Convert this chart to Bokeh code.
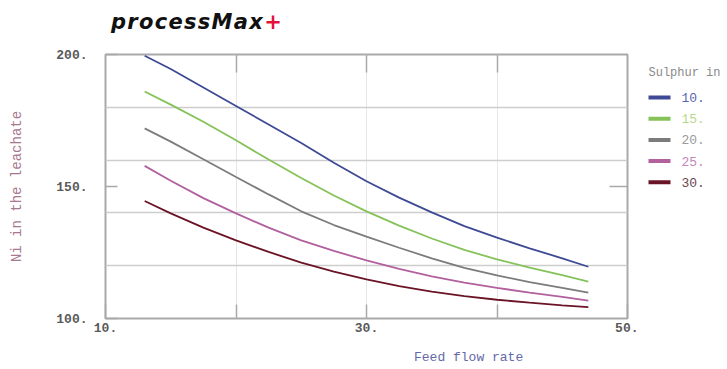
from bokeh.plotting import figure
from bokeh.models import Div, FixedTicker, LinearAxis, Range1d, ColumnDataSource
from bokeh.layouts import column, row
from bokeh.embed import file_html
from bokeh.resources import INLINE
from bokeh.core.properties import value

# ---- data ----
feed_flow = [13, 15, 17.5, 20, 22.5, 25, 27.5, 30, 32.5, 35, 37.5, 40, 42.5, 45, 47]
ni_s10 = [199.5, 194.5, 187.5, 180.5, 173.5, 166.5, 159.0, 152.0, 145.8, 140.2, 135.0, 130.6, 126.6, 122.8, 119.6]
ni_s15 = [186.0, 181.0, 174.5, 167.5, 160.2, 153.2, 146.6, 140.6, 135.2, 130.3, 126.0, 122.4, 119.3, 116.4, 114.0]
ni_s20 = [172.0, 167.0, 160.3, 153.6, 147.0, 140.6, 135.4, 131.0, 126.8, 122.8, 119.2, 116.3, 113.8, 111.6, 109.8]
ni_s25 = [157.8, 152.2, 145.6, 139.8, 134.4, 129.6, 125.6, 122.0, 118.8, 116.0, 113.6, 111.6, 109.8, 108.2, 106.8]
ni_s30 = [144.5, 139.8, 134.4, 129.6, 125.2, 121.2, 117.8, 114.8, 112.3, 110.2, 108.5, 107.1, 106.0, 105.0, 104.3]
sulphur_labels = ["10.", "15.", "20.", "25.", "30."]
series = [ni_s10, ni_s15, ni_s20, ni_s25, ni_s30]
line_colors = ["#3e4b94", "#86c25a", "#7c7c7c", "#b2609e", "#6a1426"]
label_colors = ["#5866b0", "#b9d98a", "#9a9a9a", "#c486b6", "#6b4450"]

x_ticks = [10, 20, 30, 40, 50]
x_tick_labels = {10: "10.", 20: "", 30: "30.", 40: "", 50: "50."}
y_ticks = [100, 150, 200]
y_tick_labels = {100: "100.", 150: "150.", 200: "200."}

MONO = "Liberation Mono"
FRAME = "#a9a9a9"

title = Div(
    text='<div style="padding-left:111px;padding-top:2px;font-family:\'DejaVu Sans\';font-weight:bold;'
         'font-style:italic;font-size:21px;letter-spacing:1.3px;line-height:40px;color:#111;'
         'white-space:nowrap;">processMax<span style="color:#e3123c">+</span></div>',
    width=725, height=42, margin=0,
)

p = figure(width=638, height=300, x_range=Range1d(10, 50), y_range=Range1d(100, 200),
           output_backend="svg", toolbar_location=None, title=None,
           min_border_left=105, min_border_right=11, min_border_top=12, min_border_bottom=24)
p.background_fill_color = "white"
p.border_fill_color = "white"
p.outline_line_color = FRAME
p.outline_line_width = 2

for ys, c in zip(series, line_colors):
    p.line(feed_flow, ys, line_color=c, line_width=1.8)

# grid
p.xgrid.ticker = FixedTicker(ticks=[20, 30, 40])
p.xgrid.grid_line_color = "#e6e6e6"
p.xgrid.grid_line_width = 1
p.ygrid.ticker = FixedTicker(ticks=[120, 140, 160, 180])
p.ygrid.grid_line_color = "#cdcdcd"
p.ygrid.grid_line_width = 1.5

# bottom axis
xa = p.xaxis[0]
xa.ticker = FixedTicker(ticks=x_ticks)
xa.major_label_overrides = x_tick_labels
xa.axis_line_color = None
xa.major_tick_line_color = FRAME
xa.major_tick_line_width = 1.5
xa.major_tick_in = 14
xa.major_tick_out = 0
xa.minor_tick_line_color = None
xa.major_label_standoff = 4
xa.major_label_text_font = MONO
xa.major_label_text_font_style = "bold"
xa.major_label_text_font_size = "13px"
xa.major_label_text_color = "#5a5a5a"

# left axis
ya = p.yaxis[0]
ya.ticker = FixedTicker(ticks=y_ticks)
ya.major_label_overrides = y_tick_labels
ya.axis_line_color = None
ya.major_tick_line_color = FRAME
ya.major_tick_line_width = 1.5
ya.major_tick_in = 12
ya.major_tick_out = 0
ya.minor_tick_line_color = None
ya.major_label_standoff = 18
ya.major_label_text_font = MONO
ya.major_label_text_font_style = "bold"
ya.major_label_text_font_size = "13px"
ya.major_label_text_color = "#5a5a5a"
ya.axis_label = "Ni in the leachate"
ya.axis_label_text_font = MONO
ya.axis_label_text_font_style = "normal"
ya.axis_label_text_font_size = "14px"
ya.axis_label_text_color = "#a87890"
ya.axis_label_standoff = 28

# top and right frame ticks
ta = LinearAxis(ticker=FixedTicker(ticks=[20, 30, 40]), axis_line_color=None,
                major_tick_line_color=FRAME, major_tick_line_width=1.5,
                major_tick_in=18, major_tick_out=0, minor_tick_line_color=None,
                major_label_text_font_size="0px", major_label_standoff=0)
ta.major_label_overrides = {20: "", 30: "", 40: ""}
p.add_layout(ta, "above")
ra = LinearAxis(ticker=FixedTicker(ticks=[150]), axis_line_color=None,
                major_tick_line_color=FRAME, major_tick_line_width=1.5,
                major_tick_in=18, major_tick_out=0, minor_tick_line_color=None,
                major_label_text_font_size="0px", major_label_standoff=0)
ra.major_label_overrides = {150: ""}
p.add_layout(ra, "right")

# legend panel (its frame is aligned with the main frame: screen y 54..318)
leg = figure(width=87, height=300, x_range=Range1d(0, 87), y_range=Range1d(318, 54),
             output_backend="svg", toolbar_location=None, title=None,
             x_axis_location=None, y_axis_location=None,
             min_border=0, min_border_left=0, min_border_right=0,
             min_border_top=12, min_border_bottom=24)
leg.grid.visible = False
leg.outline_line_color = None
leg.background_fill_color = "white"
leg.border_fill_color = "white"

n = len(sulphur_labels)
row_y = [97 + 21.2 * i for i in range(n)]
leg.text(x=[10], y=[72], text=["Sulphur in"], text_font=value(MONO), text_font_size="12px",
         text_color="#8a8a8a", text_baseline="middle", text_align="left")
leg.segment(x0=[10] * n, y0=row_y, x1=[32] * n, y1=row_y, line_color=line_colors, line_width=4)
src = ColumnDataSource(dict(x=[43] * n, y=row_y, t=sulphur_labels, c=label_colors))
leg.text(x="x", y="y", text="t", text_color="c", source=src, text_font=value(MONO),
         text_font_size="13px", text_baseline="middle", text_align="left")

xlabel = Div(
    text='<div style="padding-left:414px;padding-top:7px;font-family:\'Liberation Mono\';'
         'font-size:13px;line-height:18px;color:#6468a8;white-space:nowrap;">Feed flow rate</div>',
    width=725, height=25, margin=0,
)

layout = column(title, row(p, leg), xlabel)
open("out.html", "w").write(file_html(layout, INLINE))
